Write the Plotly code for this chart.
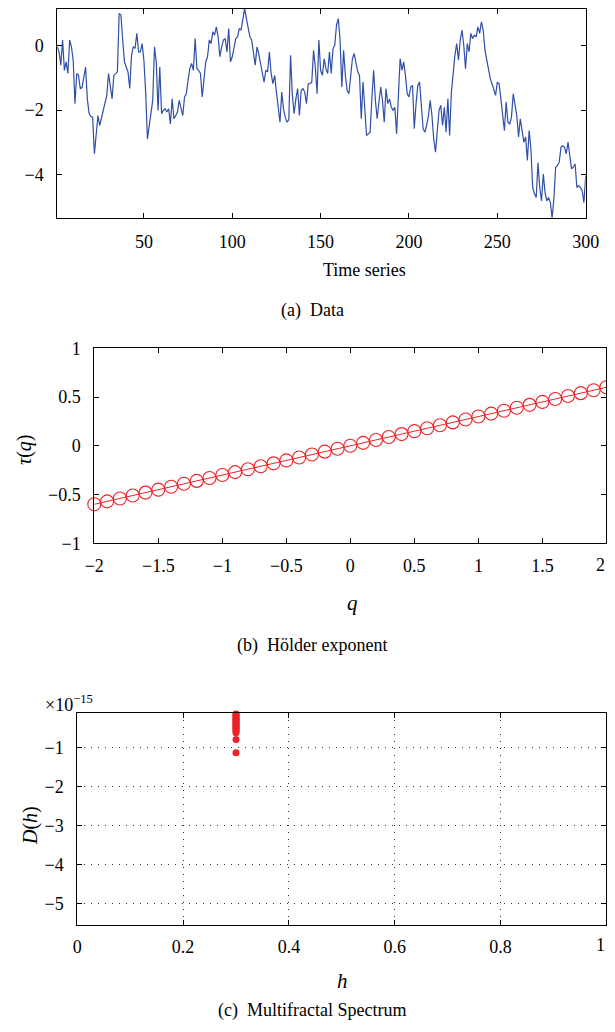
import plotly.graph_objects as go

# ---------------- data ----------------
series_values = [
    -0.03, -0.19, -0.6, 0.18, -0.76, -0.5, -0.86, 0.18, -0.03, -0.45,
    -1.8, -0.86, -0.92, -1.33, -1.3, -1.02, -0.66, -1.65, -2.11, -2.2,
    -2.22, -3.36, -2.74, -2.17, -2.48, -2.22, -1.96, -1.7, -1.54, -0.86,
    -1.23, -1.65, -0.92, -0.86, -0.81, 1.01, 0.96, 0.18, -0.5, -0.66,
    -0.81, -1.33, -0.29, -0.03, -0.08, 0.39, -0.19, -0.19, 0.07, -0.45,
    -1.44, -2.9, -2.53, -2.17, -1.7, -0.03, -0.5, -2.01, -0.66, -2.11,
    -2.01, -1.96, -2.06, -1.96, -2.43, -1.65, -2.27, -2.17, -2.06, -1.7,
    -1.96, -2.17, -1.59, -1.49, -1.07, -0.71, -0.55, -0.76, 0.23, -0.71,
    -0.76, -0.86, -1.59, -0.92, -0.5, -0.34, 0.18, 0.07, 0.44, 0.33,
    0.59, 0.28, -0.34, -0.03, 0.18, 0.23, -0.19, 0.54, -0.5, -0.34,
    0.02, 0.23, 0.28, 0.54, 0.49, 0.85, 1.17, 0.85, 0.54, 0.28,
    0.18, -0.24, -0.6, -0.03, -0.24, -0.55, -0.81, -1.13, -0.76, -0.81,
    -0.19, -0.86, -1.18, -0.92, -1.44, -1.91, -2.38, -1.44, -1.96, -2.22,
    -2.38, -2.3, -0.29, -1.54, -2.11, -1.65, -1.33, -2.17, -1.39, -1.33,
    -1.44, -1.8, -1.18, -1.18, -1.13, -0.14, -0.66, -1.49, 0.18, -0.76,
    -0.92, -0.4, -0.71, -0.86, -0.19, -0.86, -0.08, 0.02, 0.65, 0.85,
    0.18, -1.28, -0.14, -0.92, -1.39, -1.49, -0.81, -0.4, -0.24, -0.5,
    -0.81, -0.92, -2.27, -1.13, -2.01, -2.79, -2.74, -2.69, -1.65, -0.76,
    -1.7, -2.27, -1.75, -1.28, -1.7, -2.38, -1.33, -1.8, -1.65, -1.91,
    -2.01, -1.91, -2.74, -1.49, -0.4, -0.76, -0.5, -0.92, -1.49, -1.59,
    -1.28, -1.23, -2.58, -1.8, -1.23, -1.13, -1.85, -2.58, -2.69, -2.48,
    -2.17, -1.7, -2.17, -2.9, -3.31, -2.53, -2.01, -1.85, -2.48, -1.91,
    -2.69, -1.65, -2.79, -1.44, -0.81, -0.29, 0.07, -0.45, 0.18, 0.49,
    0.02, -0.71, 0.07, -0.19, 0.39, 0.23, 0.33, 0.28, 0.59, 0.39,
    0.75, 0.49, -0.14, -0.45, -0.76, -1.02, -1.18, -1.33, -1.54, -1.13,
    -1.18, -1.65, -2.11, -2.64, -1.75, -2.38, -2.43, -2.22, -1.49, -1.8,
    -2.17, -2.84, -2.27, -2.64, -3.0, -2.84, -3.57, -2.64, -3.21, -4.41,
    -4.61, -4.72, -3.63, -4.41, -4.83, -3.99, -4.56, -4.83, -4.72, -4.88,
    -5.35, -4.77, -3.78, -3.73, -3.63, -3.16, -3.11, -3.16, -3.36, -3.0,
    -3.47, -3.83, -3.78, -3.68, -4.41, -4.35, -4.41, -4.51, -4.88, -4.04,
]
time_index = list(range(1, len(series_values) + 1))

q_values = [round(-2 + 0.1 * i, 1) for i in range(41)]
tau_values = [
    -0.60, -0.57, -0.54, -0.51, -0.48, -0.45, -0.42, -0.39, -0.36, -0.33,
    -0.30, -0.27, -0.24, -0.21, -0.18, -0.15, -0.12, -0.09, -0.06, -0.03,
    0.00, 0.03, 0.06, 0.09, 0.12, 0.15, 0.18, 0.21, 0.24, 0.27,
    0.30, 0.33, 0.36, 0.39, 0.42, 0.45, 0.48, 0.51, 0.54, 0.57, 0.60,
]

# multifractal spectrum (D values in units of 1e-15)
h_values = [0.3] * 20
D_values_e15 = [
    -0.15, -0.17, -0.19, -0.22, -0.25, -0.28, -0.30, -0.33, -0.36, -0.39,
    -0.42, -0.45, -0.47, -0.50, -0.53, -0.56, -0.60, -0.63, -0.80, -1.14,
]

# ---------------- styling ----------------
# the page body keeps its default 8px margin, so the figure is sized to fill
# the 615x1032 window exactly together with that margin
PAGE_W, PAGE_H = 615, 1032
OFF = 8
W, H = PAGE_W - 2 * OFF, PAGE_H - 2 * OFF
FONT = "Liberation Serif"
FS = 18
BLUE = "#2f4fa8"
RED = "#ec2228"

MID_BOTTOM = 543.3
BOT_BOTTOM = 925


def px(x):
    return (x - OFF) / W


def py(y):
    return 1 - (y - OFF) / H


def xd(a, b):
    return [max(0.0, px(a)), min(1.0, px(b))]


def yd(top, bottom):
    return [max(0.0, py(bottom)), min(1.0, py(top))]


fig = go.Figure()

fig.add_trace(go.Scatter(x=time_index, y=series_values, mode="lines",
                         line=dict(color=BLUE, width=1.2),
                         xaxis="x", yaxis="y", showlegend=False))

fig.add_trace(go.Scatter(x=q_values, y=tau_values, mode="lines+markers",
                         line=dict(color=RED, width=1),
                         marker=dict(symbol="circle-open", size=13,
                                     color=RED, line=dict(width=1.1, color=RED)),
                         cliponaxis=False,
                         xaxis="x2", yaxis="y2", showlegend=False))

fig.add_trace(go.Scatter(x=h_values, y=D_values_e15, mode="markers",
                         marker=dict(symbol="circle", size=7, color=RED),
                         cliponaxis=False,
                         xaxis="x3", yaxis="y3", showlegend=False))

axis_common = dict(showline=True, linecolor="black", linewidth=1, mirror="ticks",
                   ticks="inside", ticklen=5, tickcolor="black", tickwidth=1,
                   zeroline=False, showgrid=False, automargin=False,
                   tickfont=dict(family=FONT, size=FS, color="black"))
grid_style = dict(showgrid=True, gridcolor="#333", gridwidth=1, griddash="1px,6px")

fig.update_layout(
    width=W, height=H,
    margin=dict(l=0, r=0, t=0, b=0, pad=0, autoexpand=False),
    paper_bgcolor="white", plot_bgcolor="white",
    font=dict(family=FONT, size=FS, color="black"),
    xaxis=dict(domain=xd(57.3, 585.7), range=[1, 300], tick0=0, dtick=50,
               anchor="y", ticklabelstandoff=7, **axis_common),
    yaxis=dict(domain=yd(8.6, 218.3), range=[-5.37, 1.16], tick0=0, dtick=2,
               anchor="x", ticklabelstandoff=9, **axis_common),
    xaxis2=dict(domain=xd(94.3, 606.4), range=[-2, 2], tick0=0, dtick=0.5,
                anchor="y2", ticklabelstandoff=6, **axis_common),
    yaxis2=dict(domain=yd(348.3, MID_BOTTOM), range=[-1, 1], tick0=0, dtick=0.5,
                anchor="x2", ticklabelstandoff=9, **axis_common),
    xaxis3=dict(domain=xd(77.3, 606.4), range=[0, 1], tick0=0, dtick=0.2,
                anchor="y3", ticklabelstandoff=5, **{**axis_common, **grid_style}),
    yaxis3=dict(domain=yd(713.3, BOT_BOTTOM), range=[-5.54, -0.133], tick0=0, dtick=1,
                anchor="x3", ticklabelstandoff=9, **{**axis_common, **grid_style}),
)

annotations = [
    dict(x=px(365), y=py(270), text="Time series"),
    dict(x=px(312), y=py(310), text="(a)&#8194;Data"),
    # last tick labels of the two lower plots sit on the window edge
    dict(x=1.0, y=py(MID_BOTTOM + 22), text="2", xanchor="right"),
    dict(x=1.0, y=py(BOT_BOTTOM + 20), text="1", xanchor="right"),
    dict(x=px(352), y=py(603), text="<i>q</i>", font=dict(size=21)),
    dict(x=px(24), y=py(450), text="<i>τ</i>(<i>q</i>)", textangle=-90, font=dict(size=20)),
    dict(x=px(312), y=py(645), text="(b)&#8194;Hölder exponent"),
    dict(x=px(43), y=py(703), text="×10<sup>−15</sup>", xanchor="left"),
    dict(x=px(30), y=py(826), text="<i>D</i>(<i>h</i>)", textangle=-90, font=dict(size=20)),
    dict(x=px(342), y=py(981), text="<i>h</i>", font=dict(size=21)),
    dict(x=px(312), y=py(1010), text="(c)&#8194;Multifractal Spectrum"),
]
for a in annotations:
    a.setdefault("xanchor", "center")
    a.setdefault("yanchor", "middle")
    a.setdefault("font", dict(size=FS))
    a["font"] = {**dict(family=FONT, color="black", size=FS), **a["font"]}
    a.update(xref="paper", yref="paper", showarrow=False)
fig.update_layout(annotations=annotations)

fig.write_html("out.html", config={"displayModeBar": False, "staticPlot": True})
